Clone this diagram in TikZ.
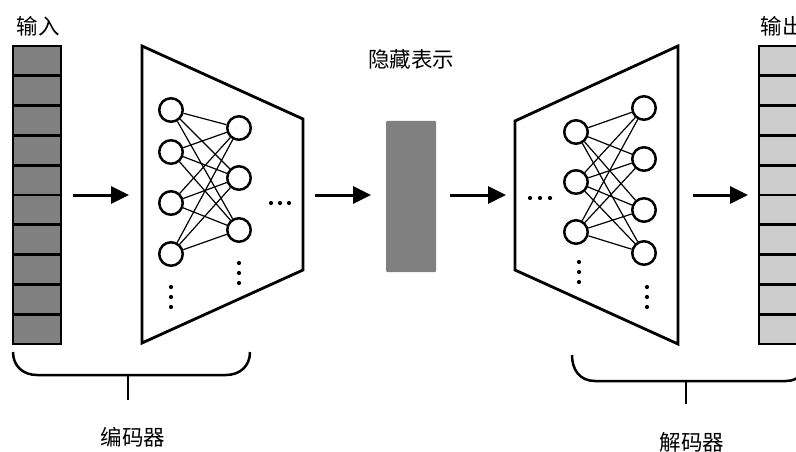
\documentclass[tikz,border=0pt]{standalone}
\usepackage{fontspec}
\newfontfamily\cjk{Noto Sans CJK SC}
\usetikzlibrary{arrows.meta}
\definecolor{incell}{gray}{0.5}
\definecolor{outcell}{gray}{0.8}
\definecolor{hidfill}{gray}{0.5}
\begin{document}
\begin{tikzpicture}[x=1pt,y=-1pt,
  cell/.style={draw, line width=2.8pt, minimum width=48pt, minimum height=29.8pt, inner sep=0pt, outer sep=0pt},
  incellbox/.style={cell, fill=incell},
  outcellbox/.style={cell, fill=outcell},
  neuron/.style={circle, draw, line width=2.5pt, fill=white, minimum size=23.5pt, inner sep=0pt},
  link/.style={line width=1.2pt},
  frame/.style={line width=2.8pt, line join=miter},
  flow/.style={line width=3pt, -{Triangle[length=18pt,width=17pt]}},
  brace/.style={line width=2.5pt},
  dot/.style={circle, fill=black, minimum size=4.2pt, inner sep=0pt},
  label/.style={font=\cjk\fontsize{21.5}{24}\selectfont, inner sep=0pt}
]
\useasboundingbox (0,0) rectangle (796,452);
\clip (0,0) rectangle (796,452);

% input and output vectors
\foreach \i in {0,...,9} {
  \node[incellbox] (in\i) at (37,{46+29.8*(\i+0.5)}) {};
  \node[outcellbox] (out\i) at (783,{46+29.8*(\i+0.5)}) {};
}
\node[label] (inlabel) at (38,26) {输入};
\node[label] (outlabel) at (782,26) {输出};

% encoder and decoder frames
\draw[frame] (142,46) -- (303,119) -- (303,270) -- (142,343) -- cycle;
\draw[frame] (515,121) -- (678,46) -- (678,344) -- (515,270) -- cycle;

% hidden representation
\node[fill=hidfill, rounded corners=1pt, minimum width=50pt, minimum height=151pt, inner sep=0pt] (hidden) at (411,196.5) {};
\node[label] (hidlabel) at (411,59) {隐藏表示};

% encoder network
\foreach \n/\y in {1/110,2/152,3/203,4/254}
  \node[neuron] (ea\n) at (171,\y) {};
\foreach \n/\y in {1/128,2/178,3/230}
  \node[neuron] (eb\n) at (239,\y) {};
\foreach \a in {1,...,4}
  \foreach \b in {1,...,3}
    \draw[link] (ea\a) -- (eb\b);
\foreach \n/\y in {1/287,2/297,3/307}
  \node[dot] (eadot\n) at (171,\y) {};
\foreach \n/\y in {1/263,2/273,3/283}
  \node[dot] (ebdot\n) at (239,\y) {};
\foreach \n/\x in {1/271,2/280,3/289}
  \node[dot] (edots\n) at (\x,203) {};

% decoder network
\foreach \n/\y in {1/132,2/182,3/232}
  \node[neuron] (da\n) at (576,\y) {};
\foreach \n/\y in {1/108,2/159,3/210,4/253}
  \node[neuron] (db\n) at (644,\y) {};
\foreach \a in {1,...,3}
  \foreach \b in {1,...,4}
    \draw[link] (da\a) -- (db\b);
\foreach \n/\y in {1/262,2/272,3/282}
  \node[dot] (dadot\n) at (579,\y) {};
\foreach \n/\y in {1/287,2/297,3/307}
  \node[dot] (dbdot\n) at (647,\y) {};
\foreach \n/\x in {1/530,2/540,3/550}
  \node[dot] (ddots\n) at (\x,198) {};

% flow arrows
\coordinate (a1s) at (73,195);  \coordinate (a1e) at (129,195);
\coordinate (a2s) at (315,195); \coordinate (a2e) at (371,195);
\coordinate (a3s) at (450,195); \coordinate (a3e) at (506,195);
\coordinate (a4s) at (693,195); \coordinate (a4e) at (748,195);
\draw[flow] (a1s) -- (a1e);
\draw[flow] (a2s) -- (a2e);
\draw[flow] (a3s) -- (a3e);
\draw[flow] (a4s) -- (a4e);

% encoder brace
\coordinate (eb-l) at (13,352);
\coordinate (eb-r) at (250,352);
\coordinate (eb-m) at (128,375);
\coordinate (eb-t) at (128,400);
\draw[brace] (eb-l) .. controls (13,366) and (23,375) .. (37,375) -- (226,375) .. controls (240,375) and (250,366) .. (eb-r);
\draw[brace] (eb-m) -- (eb-t);
\node[label] (enclabel) at (133,437) {编码器};

% decoder brace
\coordinate (db-l) at (572,355);
\coordinate (db-r) at (808,355);
\coordinate (db-m) at (686,381);
\coordinate (db-t) at (686,404);
\draw[brace] (db-l) .. controls (572,370) and (580,381) .. (595,381) -- (786,381) .. controls (800,381) and (808,370) .. (db-r);
\draw[brace] (db-m) -- (db-t);
\node[label] (declabel) at (692,442) {解码器};
\end{tikzpicture}
\end{document}
